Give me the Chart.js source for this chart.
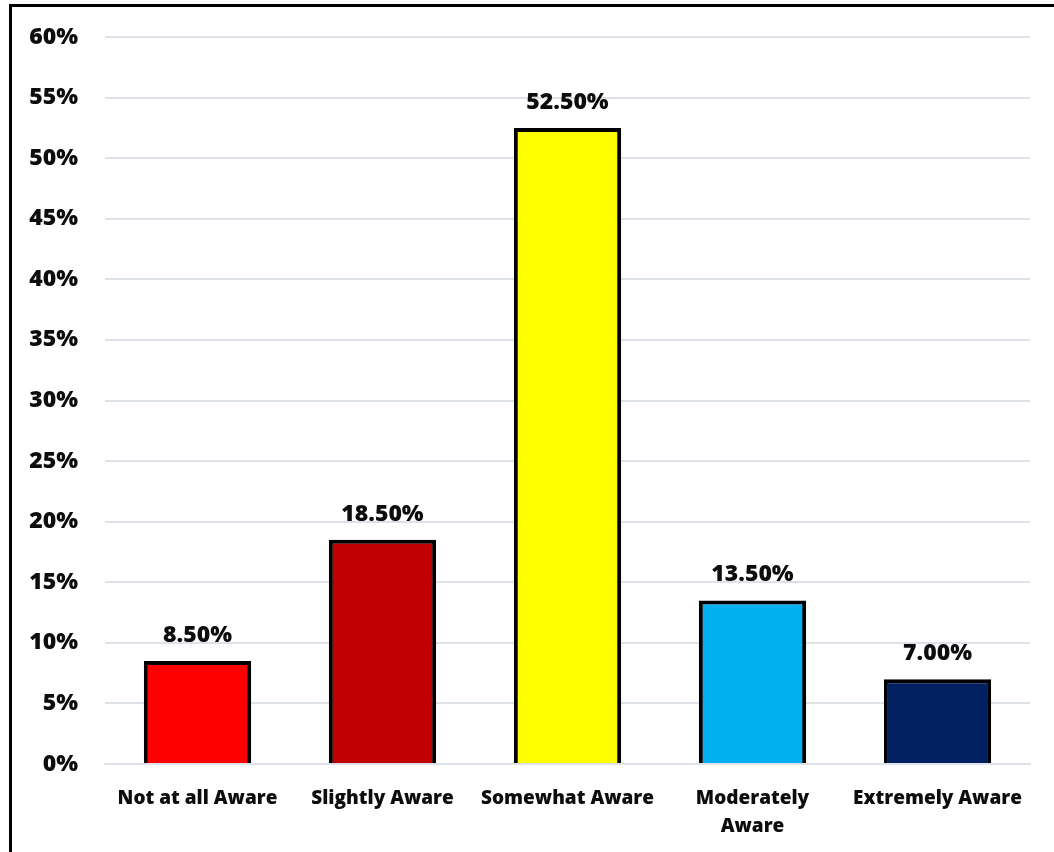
<!DOCTYPE html>
<html>
<head>
<meta charset="utf-8">
<script src="https://cdn.jsdelivr.net/npm/chart.js@4"></script>
<style>
  body { margin: 0; background: #fff; }
  #frame {
    position: absolute; left: 9px; top: 4px; width: 1100px; height: 900px;
    border-left: 3px solid #000; border-top: 3px solid #000;
  }
  #wrap { position: absolute; left: 0; top: 0; width: 1054px; height: 852px; }
</style>
</head>
<body>
<div id="frame"></div>
<div id="wrap"><canvas id="awarenessChart" width="1054" height="852"></canvas></div>
<script>
// Awareness levels, share of respondents (%)
const categories = ['Not at all Aware', 'Slightly Aware', 'Somewhat Aware', ['Moderately', 'Aware'], 'Extremely Aware'];
const shares = [8.5, 18.5, 52.5, 13.5, 7.0];
const barColors = ['#FF0000', '#C00000', '#FFFF00', '#00B0F0', '#002060'];
const yTicks = { min: 0, max: 60, step: 5 };

const FONT = '"Open Sans", Lato, sans-serif';
const WEIGHT = '800';

// Draws the value above each bar
const valueLabels = {
  id: 'valueLabels',
  afterDatasetsDraw(chart) {
    const { ctx } = chart;
    const meta = chart.getDatasetMeta(0);
    ctx.save();
    ctx.font = WEIGHT + ' 23px ' + FONT;
    ctx.fillStyle = '#0d0d0d';
    ctx.textAlign = 'center';
    ctx.textBaseline = 'alphabetic';
    meta.data.forEach((bar, i) => {
      ctx.fillText(shares[i].toFixed(2) + '%', bar.x, bar.y - 19);
    });
    ctx.restore();
  }
};

const ctx = document.getElementById('awarenessChart').getContext('2d');
new Chart(ctx, {
  type: 'bar',
  data: {
    labels: categories,
    datasets: [{
      data: shares,
      backgroundColor: barColors,
      borderColor: '#000',
      borderWidth: 4,
      categoryPercentage: 1,
      barPercentage: 0.58
    }]
  },
  options: {
    responsive: false,
    animation: false,
    layout: { padding: { top: 37, right: 24, left: 0, bottom: 0 } },
    plugins: { legend: { display: false }, tooltip: { enabled: false } },
    scales: {
      y: {
        min: yTicks.min,
        max: yTicks.max,
        ticks: {
          stepSize: yTicks.step,
          padding: 27,
          color: '#0d0d0d',
          font: { family: FONT, size: 23, weight: WEIGHT },
          callback: v => v + '%'
        },
        grid: { color: '#dde1e8', lineWidth: 2, drawTicks: false },
        border: { display: false },
        afterFit(scale) {
          scale.width = 105;
          scale.paddingTop = 0;
          scale.paddingBottom = 0;
        }
      },
      x: {
        ticks: {
          padding: 12,
          color: '#0d0d0d',
          maxRotation: 0,
          autoSkip: false,
          font: { family: FONT, size: 19, weight: WEIGHT, lineHeight: 1.5 }
        },
        grid: { display: false },
        border: { color: '#dde1e8', width: 2 },
        afterFit(scale) {
          scale.height = 88;
          scale.paddingLeft = 0;
          scale.paddingRight = 0;
        }
      }
    }
  },
  plugins: [valueLabels]
});
</script>
</body>
</html>
